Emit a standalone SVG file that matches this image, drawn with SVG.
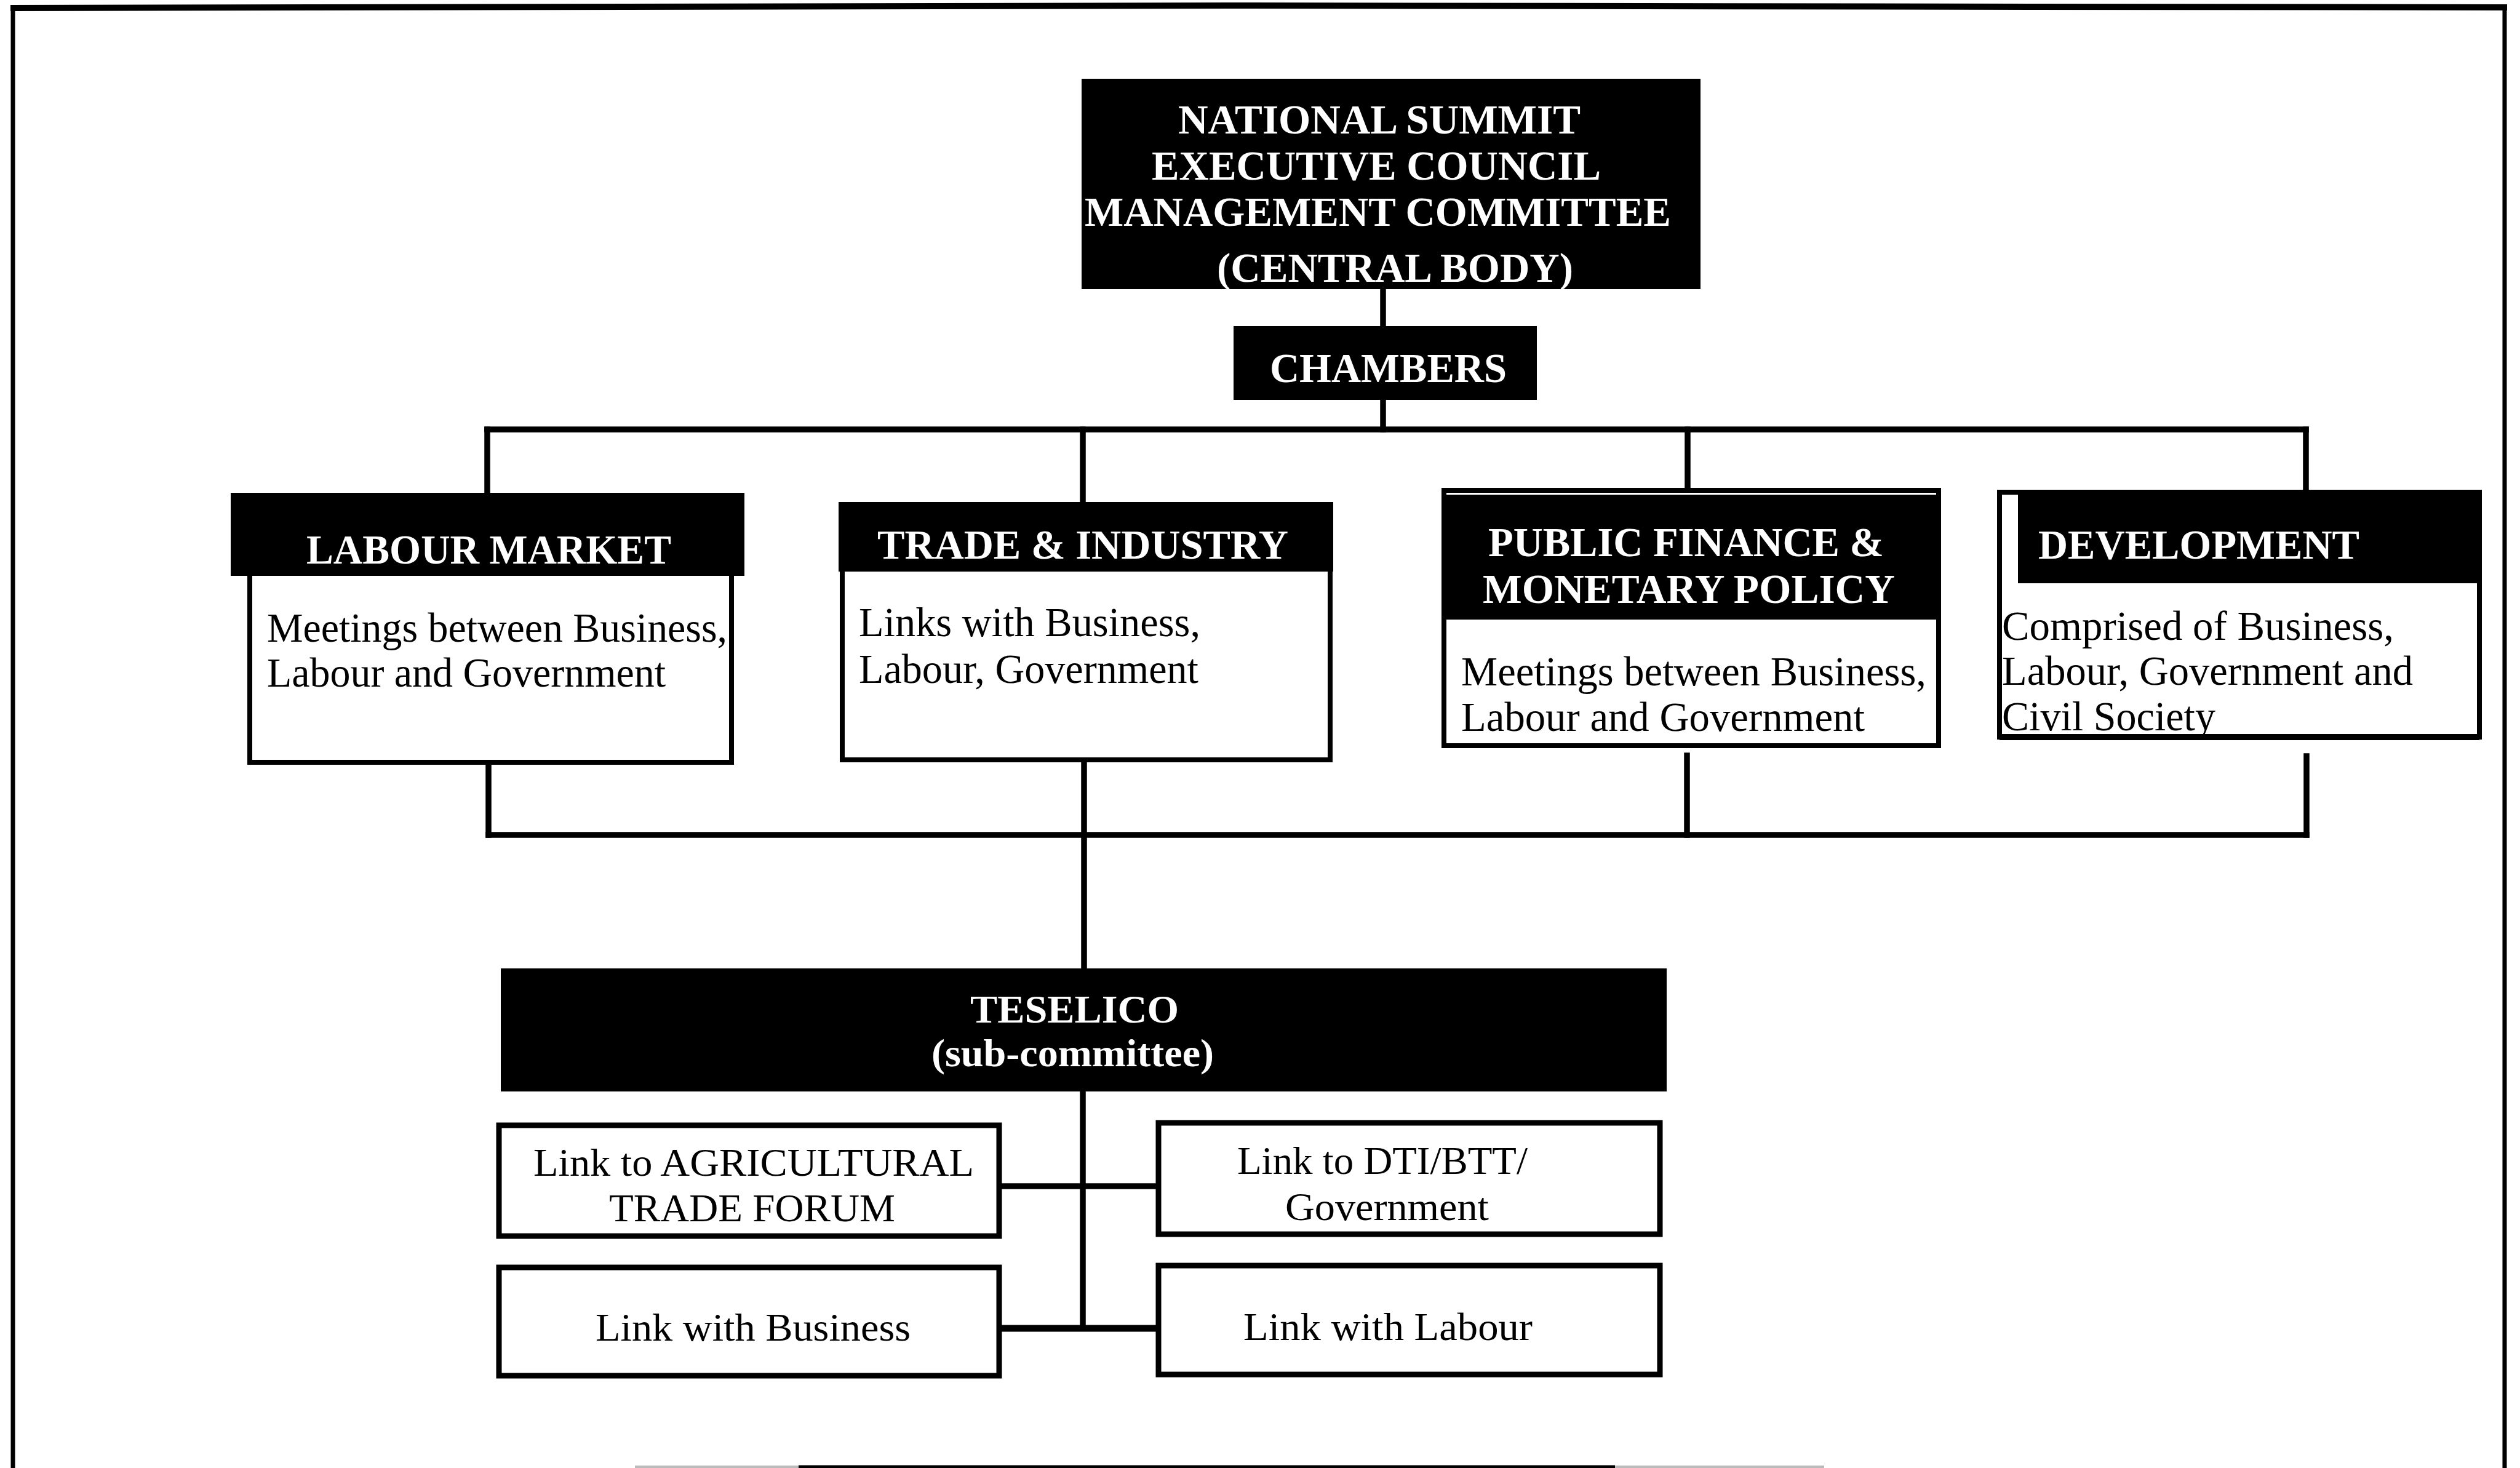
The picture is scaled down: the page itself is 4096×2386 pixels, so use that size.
<svg xmlns="http://www.w3.org/2000/svg" width="4096" height="2386" viewBox="0 0 4096 2386">
  <style>
    .frame { stroke: #000; fill: none; }
    .box { fill: #fff; stroke: #000; stroke-width: 8; }
    .sub { fill: #fff; stroke: #000; stroke-width: 9; }
    .hdr { fill: #000; }
    .ln { stroke: #000; stroke-width: 9.5; fill: none; stroke-linecap: square; }
    .wt { fill: #fff; font-family: "Liberation Serif", "Times New Roman", serif; font-weight: bold; font-size: 68px; }
    .bt { fill: #000; font-family: "Liberation Serif", "Times New Roman", serif; font-size: 68px; }
    .st { fill: #000; font-family: "Liberation Serif", "Times New Roman", serif; font-size: 64px; }
    .tw { fill: #fff; font-family: "Liberation Serif", "Times New Roman", serif; font-weight: bold; font-size: 64px; }
  </style>
  <rect width="4096" height="2386" fill="#fff"/>

  <!-- page frame -->
  <g id="frame" class="frame">
    <path d="M17 13 L2000 9 L4075 12" stroke-width="10"/>
    <line x1="21" y1="8" x2="21" y2="2386" stroke-width="7"/>
    <line x1="4071" y1="8" x2="4071" y2="2386" stroke-width="7"/>
    <line x1="1032" y1="2384" x2="2965" y2="2384" stroke-width="4" stroke="#bbb"/>
    <line x1="1298" y1="2384" x2="2625" y2="2384" stroke-width="5"/>
  </g>

  <!-- connectors -->
  <g id="connectors" class="ln">
    <line x1="2248" y1="470" x2="2248" y2="698"/>
    <line x1="792" y1="698" x2="3748" y2="698"/>
    <line x1="792" y1="698" x2="792" y2="803"/>
    <line x1="1760" y1="698" x2="1760" y2="816"/>
    <line x1="2743" y1="698" x2="2743" y2="804"/>
    <line x1="3748" y1="698" x2="3748" y2="798"/>
    <line x1="794" y1="1243" x2="794" y2="1357"/>
    <line x1="1762" y1="1239" x2="1762" y2="1574"/>
    <line x1="2742" y1="1228" x2="2742" y2="1357"/>
    <line x1="3749" y1="1229" x2="3749" y2="1357"/>
    <line x1="794" y1="1357" x2="3749" y2="1357"/>
    <line x1="1760" y1="1774" x2="1760" y2="2159"/>
    <line x1="1628" y1="1928" x2="1879" y2="1928"/>
    <line x1="1628" y1="2159" x2="1879" y2="2159" stroke-width="11"/>
  </g>

  <!-- central body -->
  <g id="central-body">
    <rect class="hdr" x="1758" y="128" width="1006" height="342"/>
    <text class="wt" x="1915" y="217" textLength="654" lengthAdjust="spacingAndGlyphs">NATIONAL SUMMIT</text>
    <text class="wt" x="1872" y="292" textLength="730" lengthAdjust="spacingAndGlyphs">EXECUTIVE COUNCIL</text>
    <text class="wt" x="1763" y="367" textLength="953" lengthAdjust="spacingAndGlyphs">MANAGEMENT COMMITTEE</text>
    <text class="wt" x="1978" y="458" textLength="579" lengthAdjust="spacingAndGlyphs">(CENTRAL BODY)</text>
  </g>

  <g id="chambers">
    <rect class="hdr" x="2005" y="530" width="493" height="120"/>
    <text class="wt" x="2064" y="621" textLength="385" lengthAdjust="spacingAndGlyphs">CHAMBERS</text>
  </g>

  <!-- chambers -->
  <g id="labour-market">
    <rect class="box" x="406" y="932" width="783" height="307"/>
    <rect class="hdr" x="375" y="801" width="835" height="135"/>
    <text class="wt" x="498" y="916" textLength="593" lengthAdjust="spacingAndGlyphs">LABOUR MARKET</text>
    <text class="bt" x="434" y="1043" textLength="748" lengthAdjust="spacingAndGlyphs">Meetings between Business,</text>
    <text class="bt" x="434" y="1116" textLength="648" lengthAdjust="spacingAndGlyphs">Labour and Government</text>
  </g>

  <g id="trade-industry">
    <rect class="box" x="1369" y="925" width="793" height="310"/>
    <rect class="hdr" x="1363" y="816" width="804" height="113"/>
    <text class="wt" x="1426" y="908" textLength="668" lengthAdjust="spacingAndGlyphs">TRADE &amp; INDUSTRY</text>
    <text class="bt" x="1396" y="1034" textLength="555" lengthAdjust="spacingAndGlyphs">Links with Business,</text>
    <text class="bt" x="1396" y="1110" textLength="552" lengthAdjust="spacingAndGlyphs">Labour, Government</text>
  </g>

  <g id="public-finance">
    <rect class="box" x="2347" y="797" width="804" height="415" stroke-width="7"/>
    <rect class="hdr" x="2346" y="804" width="806" height="203"/>
    <text class="wt" x="2419" y="904" textLength="643" lengthAdjust="spacingAndGlyphs">PUBLIC FINANCE &amp;</text>
    <text class="wt" x="2410" y="980" textLength="670" lengthAdjust="spacingAndGlyphs">MONETARY POLICY</text>
    <text class="bt" x="2375" y="1114" textLength="756" lengthAdjust="spacingAndGlyphs">Meetings between Business,</text>
    <text class="bt" x="2375" y="1188" textLength="656" lengthAdjust="spacingAndGlyphs">Labour and Government</text>
  </g>

  <g id="development">
    <rect class="box" x="3250" y="800" width="780" height="398"/>
    <line x1="3250" y1="1198" x2="4030" y2="1198" stroke="#000" stroke-width="10"/>
    <rect class="hdr" x="3280" y="798" width="754" height="150"/>
    <text class="wt" x="3313" y="908" textLength="522" lengthAdjust="spacingAndGlyphs">DEVELOPMENT</text>
    <text class="bt" x="3254" y="1040" textLength="637" lengthAdjust="spacingAndGlyphs">Comprised of Business,</text>
    <text class="bt" x="3254" y="1113" textLength="668" lengthAdjust="spacingAndGlyphs">Labour, Government and</text>
    <text class="bt" x="3254" y="1187" textLength="347" lengthAdjust="spacingAndGlyphs">Civil Society</text>
  </g>

  <!-- sub-committee -->
  <g id="teselico">
    <rect class="hdr" x="814" y="1574" width="1895" height="200"/>
    <text class="tw" x="1577" y="1662" textLength="339" lengthAdjust="spacingAndGlyphs">TESELICO</text>
    <text class="tw" x="1514" y="1733" textLength="459" lengthAdjust="spacingAndGlyphs">(sub-committee)</text>
  </g>

  <g id="link-agricultural">
    <rect class="sub" x="811" y="1829" width="813" height="180"/>
    <text class="st" x="867" y="1911" textLength="716" lengthAdjust="spacingAndGlyphs">Link to AGRICULTURAL</text>
    <text class="st" x="990" y="1985" textLength="465" lengthAdjust="spacingAndGlyphs">TRADE FORUM</text>
  </g>

  <g id="link-dti">
    <rect class="sub" x="1883" y="1825" width="815" height="181"/>
    <text class="st" x="2011" y="1908" textLength="472" lengthAdjust="spacingAndGlyphs">Link to DTI/BTT/</text>
    <text class="st" x="2089" y="1983" textLength="331" lengthAdjust="spacingAndGlyphs">Government</text>
  </g>

  <g id="link-business">
    <rect class="sub" x="811" y="2060" width="813" height="176"/>
    <text class="st" x="968" y="2179" textLength="512" lengthAdjust="spacingAndGlyphs">Link with Business</text>
  </g>

  <g id="link-labour">
    <rect class="sub" x="1883" y="2057" width="815" height="177"/>
    <text class="st" x="2021" y="2178" textLength="470" lengthAdjust="spacingAndGlyphs">Link with Labour</text>
  </g>
</svg>
